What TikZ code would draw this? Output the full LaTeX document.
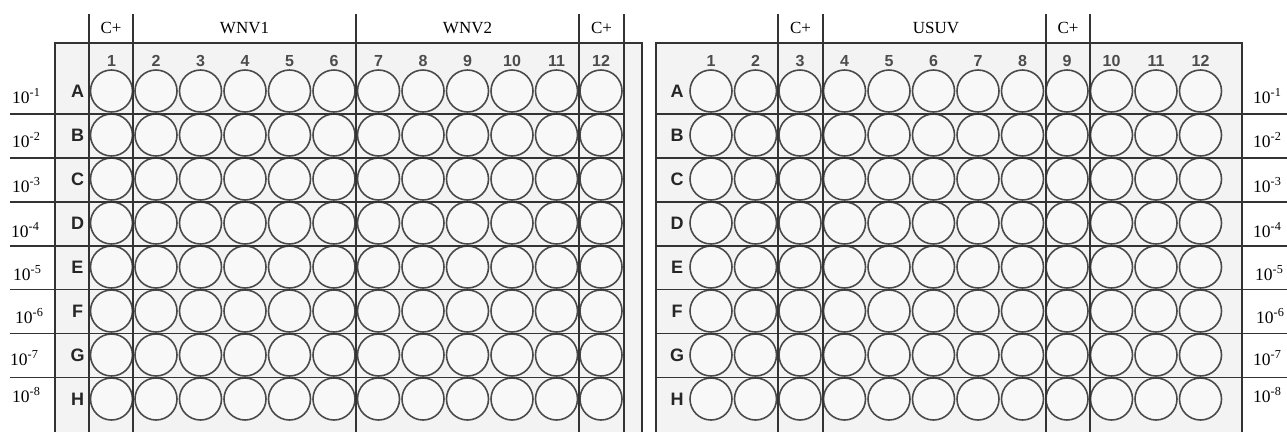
\documentclass[tikz,border=0pt]{standalone}
\usepackage{fontspec}
\setmainfont{Liberation Serif}
\newfontfamily\arialf{Liberation Sans}
\definecolor{gridc}{HTML}{333333}
\definecolor{wellc}{HTML}{4A4A4A}
\definecolor{platec}{HTML}{F3F3F3}
\definecolor{wellfill}{HTML}{F8F8F8}
\begin{document}
\begin{tikzpicture}[x=1pt,y=-1pt,
 gridline/.style={draw=gridc,line width=1.6pt},
 well/.style={draw=wellc,line width=1.6pt,fill=wellfill},
 hdr/.style={font=\fontsize{17}{20}\selectfont,inner sep=0pt},
 dil/.style={font=\fontsize{17.5}{20}\selectfont,inner sep=0pt,anchor=base west},
 colnum/.style={font=\arialf\bfseries\fontsize{16}{18}\selectfont,text=black!70,inner sep=0pt},
 rowlet/.style={font=\arialf\bfseries\fontsize{18}{20}\selectfont,text=black!85,inner sep=0pt}]
\useasboundingbox (0,0) rectangle (1287,432);
\fill[white] (0,0) rectangle (1287,432);
% plate backgrounds
\fill[platec] (55,43) rectangle (642,432);
\fill[platec] (656,43) rectangle (1242,432);
% wells
\foreach \r in {1,...,8}{
  \foreach \c in {1,...,12}{
    \draw[well] ({111.5+44.5*(\c-1)},{91+44*(\r-1)}) circle[radius=21];
    \draw[well] ({711+44.5*(\c-1)},{91+44*(\r-1)}) circle[radius=21];
  }
}
% column numbers
\foreach \c in {1,...,12}{
  \node[colnum] (lcol\c) at ({111.5+44.5*(\c-1)},61) {\c};
  \node[colnum] (rcol\c) at ({711+44.5*(\c-1)},61) {\c};
}
% row letters
\foreach \L [count=\r] in {A,B,C,D,E,F,G,H}{
  \node[rowlet] (lrow\L) at (77.5,{91.5+44*(\r-1)}) {\L};
  \node[rowlet] (rrow\L) at (677,{91.5+44*(\r-1)}) {\L};
}
% dilutions
\foreach \r/\yb/\xl/\xr in {1/103/12/1253,2/147/12/1253,3/192/12/1253,4/237/11/1253,5/280/13/1255,6/323/15/1256,7/365/10/1253,8/402/12/1253}{
  \node[dil] (ldil\r) at (\xl,\yb) {10\textsuperscript{-\r}};
  \node[dil] (rdil\r) at (\xr,\yb) {10\textsuperscript{-\r}};
}
% horizontal row separators
\foreach \k in {0,...,6}{
  \draw[gridline] (10,{114+43.9*\k}) -- (624,{114+43.9*\k});
  \draw[gridline] (656,{114+43.9*\k}) -- (1287,{114+43.9*\k});
}
% plate outlines
\draw[gridline] (55,432) -- (55,43) -- (642,43) -- (642,432);
\draw[gridline] (656,432) -- (656,43) -- (1242,43) -- (1242,432);
% group separators
\foreach \x in {89,133,356,579,624,778,823,1046,1090}{
  \draw[gridline] (\x,14) -- (\x,432);
}
% headers
\node[hdr] (hc1) at (111,28) {C+};
\node[hdr] (hw1) at (244.5,28) {WNV1};
\node[hdr] (hw2) at (467.5,28) {WNV2};
\node[hdr] (hc2) at (601.5,28) {C+};
\node[hdr] (hc3) at (800.5,28) {C+};
\node[hdr] (hus) at (936,28) {USUV};
\node[hdr] (hc4) at (1068,28) {C+};
\end{tikzpicture}
\end{document}
